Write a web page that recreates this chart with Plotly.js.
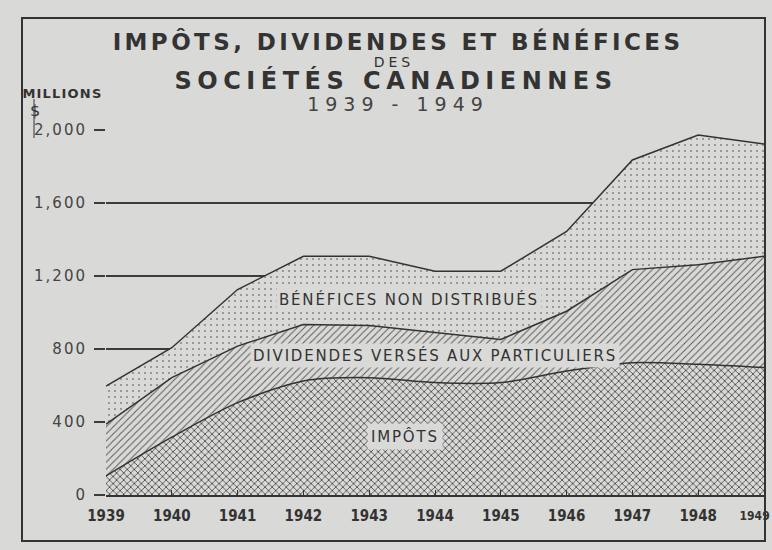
<!DOCTYPE html>
<html>
<head>
<meta charset="utf-8">
<script src="https://cdn.plot.ly/plotly-3.0.1.min.js"></script>
<style>
  html, body { margin:0; padding:0; background:#d9d9d7; }
  text.annotation-text { letter-spacing: 1.8px; }
  .annotation[data-index="0"] text.annotation-text { letter-spacing: 3.4px; }
  .annotation[data-index="1"] text.annotation-text { letter-spacing: 4px; }
  .annotation[data-index="2"] text.annotation-text { letter-spacing: 5.5px; }
  .annotation[data-index="3"] text.annotation-text { letter-spacing: 6px; }
  .annotation[data-index="4"] text.annotation-text { letter-spacing: 1.2px; }
  .annotation[data-index="5"] text.annotation-text { letter-spacing: 0px; }
  .annotation[data-index="9"] text.annotation-text { letter-spacing: 0px; }
  .ytick text { letter-spacing: 2px; }
</style>
</head>
<body>
<div id="chart" style="width:772px;height:550px;"></div>
<script>
// Years
const years = [1939, 1940, 1941, 1942, 1943, 1944, 1945, 1946, 1947, 1948, 1949];
const yearLabels = ["1939","1940","1941","1942","1943","1944","1945","1946","1947","1948","1949"];
// Millions of dollars (stacked components)
const impots = [105, 317, 506, 625, 643, 616, 616, 679, 725, 716, 698];
const dividendes = [283, 326, 310, 309, 286, 273, 236, 328, 510, 546, 610];
const beneficesNonDistribues = [209, 164, 310, 374, 379, 337, 374, 437, 601, 711, 615];
// Y axis ticks
const yTickVals = [0, 400, 800, 1200, 1600, 2000];
const yTickText = ["0", "400", "800", "1,200", "1,600", "2,000"];

const BG = '#d9d9d7';
const INK = '#333333';

const traces = [
  {
    x: years, y: impots, name: 'IMPÔTS', type: 'scatter', mode: 'lines',
    stackgroup: 'one', line: {color: INK, width: 1.5, shape: 'spline', smoothing: 0.8},
    fillcolor: BG,
    fillpattern: {shape: 'x', size: 5, solidity: 0.3, fgcolor: '#444444', bgcolor: BG},
    hoverinfo: 'skip'
  },
  {
    x: years, y: dividendes, name: 'DIVIDENDES VERSÉS AUX PARTICULIERS', type: 'scatter', mode: 'lines',
    stackgroup: 'one', line: {color: INK, width: 1.5},
    fillcolor: BG,
    fillpattern: {shape: '/', size: 5, solidity: 0.18, fgcolor: '#555555', bgcolor: BG},
    hoverinfo: 'skip'
  },
  {
    x: years, y: beneficesNonDistribues, name: 'BÉNÉFICES NON DISTRIBUÉS', type: 'scatter', mode: 'lines',
    stackgroup: 'one', line: {color: INK, width: 1.5},
    fillcolor: BG,
    fillpattern: {shape: '.', size: 6, solidity: 0.08, fgcolor: '#808080', bgcolor: BG},
    hoverinfo: 'skip'
  }
];

const pxX = v => (v - 106) / 658;   // paper coords for decorations
const pxY = v => (495 - v) / 365;

const tickTextShown = yearLabels.map((t, i) => i === yearLabels.length - 1 ? '' : t);

const layout = {
  width: 772, height: 550,
  margin: {l: 106, r: 8, t: 130, b: 55},
  paper_bgcolor: BG, plot_bgcolor: BG,
  showlegend: false,
  xaxis: {
    range: [1939, 1949], tickvals: years, ticktext: tickTextShown,
    showgrid: false, zeroline: false,
    showline: true, linecolor: INK, linewidth: 2,
    ticks: 'inside', ticklen: 5, tickcolor: INK, tickwidth: 1,
    tickfont: {family: 'DejaVu Sans Condensed', size: 15, color: '#333', weight: 'bold'},
    ticklabelstandoff: 6,
    fixedrange: true
  },
  yaxis: {
    range: [0, 2000], tickvals: yTickVals, ticktext: yTickText,
    showgrid: true, gridcolor: '#3c3c3c', gridwidth: 1.2,
    zeroline: false, showline: false,
    ticks: 'outside', ticklen: 11, tickcolor: '#3c3c3c', tickwidth: 1.2,
    tickfont: {family: 'DejaVu Sans', size: 15, color: '#444'},
    ticklabelstandoff: 4,
    fixedrange: true
  },
  shapes: [
    {type: 'rect', xref: 'paper', yref: 'paper', x0: pxX(22), x1: pxX(765), y0: pxY(541), y1: pxY(18),
     line: {color: INK, width: 2}, fillcolor: 'rgba(0,0,0,0)', layer: 'above'},
    {type: 'line', xref: 'paper', yref: 'paper', x0: pxX(34), x1: pxX(34), y0: pxY(99), y1: pxY(138),
     line: {color: INK, width: 1}}
  ],
  annotations: [
    {text: 'IMPÔTS, DIVIDENDES ET BÉNÉFICES', xref: 'paper', yref: 'paper', x: pxX(398), y: pxY(41.5),
     xanchor: 'center', yanchor: 'middle', showarrow: false, width: 660, height: 27,
     font: {family: 'DejaVu Sans', size: 23, color: '#333', weight: 'bold'}},
    {text: 'DES', xref: 'paper', yref: 'paper', x: pxX(394), y: pxY(61.5),
     xanchor: 'center', yanchor: 'middle', showarrow: false, width: 100, height: 13,
     font: {family: 'DejaVu Sans', size: 14, color: '#333'}},
    {text: 'SOCIÉTÉS CANADIENNES', xref: 'paper', yref: 'paper', x: pxX(396), y: pxY(80.5),
     xanchor: 'center', yanchor: 'middle', showarrow: false, width: 560, height: 28,
     font: {family: 'DejaVu Sans', size: 24, color: '#333', weight: 'bold'}},
    {text: '1939 - 1949', xref: 'paper', yref: 'paper', x: pxX(398), y: pxY(103.5),
     xanchor: 'center', yanchor: 'middle', showarrow: false, width: 280, height: 17,
     font: {family: 'DejaVu Sans', size: 19, color: '#444'}},
    {text: 'MILLIONS', xref: 'paper', yref: 'paper', x: pxX(18), y: pxY(93),
     xanchor: 'left', yanchor: 'middle', showarrow: false,
     font: {family: 'DejaVu Sans', size: 13, color: '#333', weight: 'bold'}},
    {text: '$', xref: 'paper', yref: 'paper', x: pxX(35), y: pxY(110),
     xanchor: 'center', yanchor: 'middle', showarrow: false,
     font: {family: 'DejaVu Sans', size: 16, color: '#333'}},
    {text: 'BÉNÉFICES NON DISTRIBUÉS', x: 1943.6, y: 1074, xref: 'x', yref: 'y',
     showarrow: false, bgcolor: BG, borderpad: 2,
     font: {family: 'DejaVu Sans', size: 15, color: '#333'}},
    {text: 'DIVIDENDES VERSÉS AUX PARTICULIERS', x: 1944.0, y: 762, xref: 'x', yref: 'y',
     showarrow: false, bgcolor: BG, borderpad: 2,
     font: {family: 'DejaVu Sans', size: 15, color: '#333'}},
    {text: 'IMPÔTS', x: 1943.55, y: 318, xref: 'x', yref: 'y',
     showarrow: false, bgcolor: BG, borderpad: 3,
     font: {family: 'DejaVu Sans', size: 15, color: '#333'}},
    {text: yearLabels[yearLabels.length - 1], x: years[years.length - 1], y: 0, xref: 'x', yref: 'y',
     xanchor: 'right', yanchor: 'top', xshift: 11, yshift: -12, showarrow: false,
     font: {family: 'DejaVu Sans Condensed', size: 12, color: '#333', weight: 'bold'}}
  ]
};

Plotly.newPlot('chart', traces, layout, {staticPlot: true, displayModeBar: false});
</script>
</body>
</html>
